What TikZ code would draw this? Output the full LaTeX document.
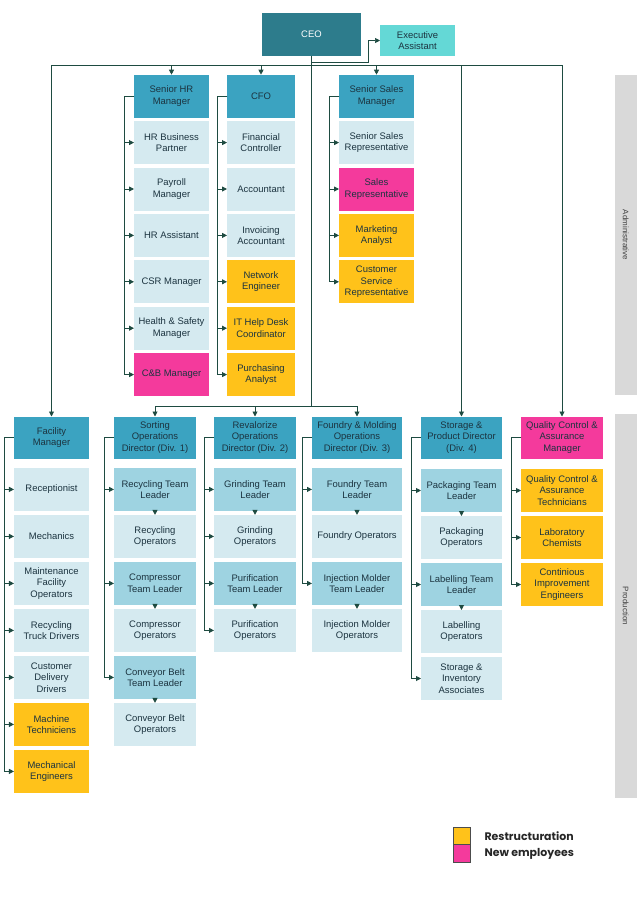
\documentclass[tikz,border=0pt]{standalone}
\usepackage{fontspec}
\setmainfont{Liberation Sans}
\newfontfamily\legendfont{Poppins}
\usetikzlibrary{arrows.meta, positioning, calc}

\definecolor{ceoteal}{RGB}{45,124,140}
\definecolor{assistcyan}{RGB}{100,216,214}
\definecolor{headblue}{RGB}{59,163,193}
\definecolor{leadblue}{RGB}{158,211,225}
\definecolor{staffblue}{RGB}{213,234,240}
\definecolor{restrgold}{RGB}{255,194,26}
\definecolor{newpink}{RGB}{244,58,156}
\definecolor{linkgreen}{RGB}{30,75,65}
\definecolor{boxtext}{RGB}{28,52,64}
\definecolor{bargray}{RGB}{217,217,217}

\tikzset{
  box/.style={minimum height=43bp, inner sep=1bp, outer sep=0pt, align=center,
              text=boxtext, font=\fontsize{9.5}{11.4}\selectfont},
  headbox/.style={box, fill=headblue},
  leadbox/.style={box, fill=leadblue},
  staffbox/.style={box, fill=staffblue},
  restrbox/.style={box, fill=restrgold},
  newbox/.style={box, fill=newpink},
  link/.style={draw=linkgreen, line width=0.9bp},
  arr/.style={link, -{Triangle[length=5bp,width=5bp]}},
  sidebar/.style={fill=bargray, rotate=-90, minimum height=21.5bp, inner sep=0pt,
                  text=black!75, font=\fontsize{8}{9.5}\selectfont},
  keybox/.style={draw=black!70, line width=0.6bp, minimum width=17bp,
                 minimum height=17.5bp, inner sep=0pt, outer sep=0pt},
  keytext/.style={font=\legendfont\bfseries\fontsize{11}{13}\selectfont, text=black!85},
}

\begin{document}
\begin{tikzpicture}[x=1bp, y=-1bp]
  \useasboundingbox (0,0) rectangle (638,904);

  % top
  \node[box, fill=ceoteal, text=white, minimum width=99bp] (ceo) at (311.5,34.5) {CEO};
  \node[box, fill=assistcyan, minimum width=75bp, minimum height=31bp] (ea) at (417.5,40.5) {Executive\\Assistant};

  % administrative
  \begin{scope}[node distance=3.4bp, every node/.append style={minimum width=75bp}]
    \node[headbox] (hr) at (171.5,96.2) {Senior HR\\Manager};
    \node[staffbox, below=of hr] (hrbp) {HR Business\\Partner};
    \node[staffbox, below=of hrbp] (payroll) {Payroll\\Manager};
    \node[staffbox, below=of payroll] (hrasst) {HR Assistant};
    \node[staffbox, below=of hrasst] (csr) {CSR Manager};
    \node[staffbox, below=of csr] (hs) {Health \& Safety\\Manager};
    \node[newbox, below=of hs] (cb) {C\&B Manager};
  \end{scope}
  \begin{scope}[node distance=3.4bp, every node/.append style={minimum width=68bp}]
    \node[headbox] (cfo) at (261,96.2) {CFO};
    \node[staffbox, below=of cfo] (fc) {Financial\\Controller};
    \node[staffbox, below=of fc] (acc) {Accountant};
    \node[staffbox, below=of acc] (inv) {Invoicing\\Accountant};
    \node[restrbox, below=of inv] (net) {Network\\Engineer};
    \node[restrbox, below=of net] (help) {IT Help Desk\\Coordinator};
    \node[restrbox, below=of help] (purch) {Purchasing\\Analyst};
  \end{scope}
  \begin{scope}[node distance=3.4bp, every node/.append style={minimum width=75bp}]
    \node[headbox] (sales) at (376.5,96.2) {Senior Sales\\Manager};
    \node[staffbox, below=of sales] (ssr) {Senior Sales\\Representative};
    \node[newbox, below=of ssr] (sr) {Sales\\Representative};
    \node[restrbox, below=of sr] (mkt) {Marketing\\Analyst};
    \node[restrbox, below=of mkt] (csrep) {Customer\\Service\\Representative};
  \end{scope}

  % production
  \begin{scope}[node distance=4bp, every node/.append style={minimum width=75bp}]
    \node[headbox, minimum height=42bp] (fac) at (51.5,437.5) {Facility\\Manager};
    \node[staffbox, below=9.4bp of fac] (recep) {Receptionist};
    \node[staffbox, below=of recep] (mech) {Mechanics};
    \node[staffbox, below=of mech] (maint) {Maintenance\\Facility\\Operators};
    \node[staffbox, below=of maint] (truck) {Recycling\\Truck Drivers};
    \node[staffbox, below=of truck] (deliv) {Customer\\Delivery\\Drivers};
    \node[restrbox, below=of deliv] (tech) {Machine\\Techniciens};
    \node[restrbox, below=of tech] (meng) {Mechanical\\Engineers};
  \end{scope}
  \begin{scope}[node distance=4bp, every node/.append style={minimum width=82bp}]
    \node[headbox, minimum height=42bp] (sort) at (155,437.5) {Sorting\\Operations\\Director (Div. 1)};
    \node[leadbox, below=9.4bp of sort] (rtl) {Recycling Team\\Leader};
    \node[staffbox, below=of rtl] (rops) {Recycling\\Operators};
    \node[leadbox, below=of rops] (ctl) {Compressor\\Team Leader};
    \node[staffbox, below=of ctl] (cops) {Compressor\\Operators};
    \node[leadbox, below=of cops] (cbtl) {Conveyor Belt\\Team Leader};
    \node[staffbox, below=of cbtl] (cbops) {Conveyor Belt\\Operators};
  \end{scope}
  \begin{scope}[node distance=4bp, every node/.append style={minimum width=82bp}]
    \node[headbox, minimum height=42bp] (reval) at (255,437.5) {Revalorize\\Operations\\Director (Div. 2)};
    \node[leadbox, below=9.4bp of reval] (gtl) {Grinding Team\\Leader};
    \node[staffbox, below=of gtl] (gops) {Grinding\\Operators};
    \node[leadbox, below=of gops] (ptl) {Purification\\Team Leader};
    \node[staffbox, below=of ptl] (pops) {Purification\\Operators};
  \end{scope}
  \begin{scope}[node distance=4bp, every node/.append style={minimum width=90bp}]
    \node[headbox, minimum height=42bp] (found) at (357,437.5) {Foundry \& Molding\\Operations\\Director (Div. 3)};
    \node[leadbox, below=9.4bp of found] (ftl) {Foundry Team\\Leader};
    \node[staffbox, below=of ftl] (fops) {Foundry Operators};
    \node[leadbox, below=of fops] (itl) {Injection Molder\\Team Leader};
    \node[staffbox, below=of itl] (iops) {Injection Molder\\Operators};
  \end{scope}
  \begin{scope}[node distance=4bp, every node/.append style={minimum width=81bp}]
    \node[headbox, minimum height=42bp] (stor) at (461.5,437.5) {Storage \&\\Product Director\\(Div. 4)};
    \node[leadbox, below=10.5bp of stor] (pkgtl) {Packaging Team\\Leader};
    \node[staffbox, below=of pkgtl] (pkgops) {Packaging\\Operators};
    \node[leadbox, below=of pkgops] (lbltl) {Labelling Team\\Leader};
    \node[staffbox, below=of lbltl] (lblops) {Labelling\\Operators};
    \node[staffbox, below=of lblops] (invas) {Storage \&\\Inventory\\Associates};
  \end{scope}
  \begin{scope}[node distance=4bp, every node/.append style={minimum width=82bp}]
    \node[newbox, minimum height=42bp] (qc) at (562,437.5) {Quality Control \&\\Assurance\\Manager};
    \node[restrbox, below=10.5bp of qc] (qct) {Quality Control \&\\Assurance\\Technicians};
    \node[restrbox, below=of qct] (lab) {Laboratory\\Chemists};
    \node[restrbox, below=of lab] (cie) {Continious\\Improvement\\Engineers};
  \end{scope}

  % buses from the CEO
  \coordinate (abus) at (0,65.7);
  \coordinate (pbus) at (0,406);
  \draw[arr, line width=0.7bp] (ceo.south) -- ++(0,6) -| ([xshift=-12bp]ea.west) -- (ea.west);
  \foreach \h in {fac,hr,cfo,sales,stor,qc}
    \draw[arr] (ceo.south) -- (ceo.south |- abus) -| (\h.north);
  \foreach \h in {sort,reval,found}
    \draw[arr] (ceo.south) -- (ceo.south |- pbus) -| (\h.north);

  % spines
  \foreach \h/\c in {hr/hrbp, hr/payroll, hr/hrasst, hr/csr, hr/hs, hr/cb,
                     cfo/fc, cfo/acc, cfo/inv, cfo/net, cfo/help, cfo/purch,
                     sales/ssr, sales/sr, sales/mkt, sales/csrep,
                     fac/recep, fac/mech, fac/maint, fac/truck, fac/deliv, fac/tech, fac/meng,
                     sort/rtl, sort/ctl, sort/cbtl,
                     reval/gtl, reval/gops, reval/ptl, reval/pops,
                     found/ftl, found/itl,
                     stor/pkgtl, stor/lbltl, stor/invas,
                     qc/qct, qc/lab, qc/cie}
    \draw[arr] (\h.west) -- ++(-9.5,0) |- (\c.west);

  % team leaders to operators
  \foreach \t/\o in {rtl/rops, ctl/cops, cbtl/cbops, gtl/gops, ptl/pops,
                     ftl/fops, itl/iops, pkgtl/pkgops, lbltl/lblops}
    \draw[arr] (\t.south) -- (\o.north);

  % side bars
  \node[sidebar, minimum width=320bp] (admbar) at (625.8,235) {Administrative};
  \node[sidebar, minimum width=384bp] (prodbar) at (625.8,606) {Production};

  % legend
  \node[keybox, fill=restrgold] (kres) at (461.5,836) {};
  \node[keybox, fill=newpink, below=0bp of kres] (knew) {};
  \node[keytext, right=11bp of kres] (lres) {Restructuration};
  \node[keytext, right=11bp of knew] (lnew) {New employees};
\end{tikzpicture}
\end{document}
